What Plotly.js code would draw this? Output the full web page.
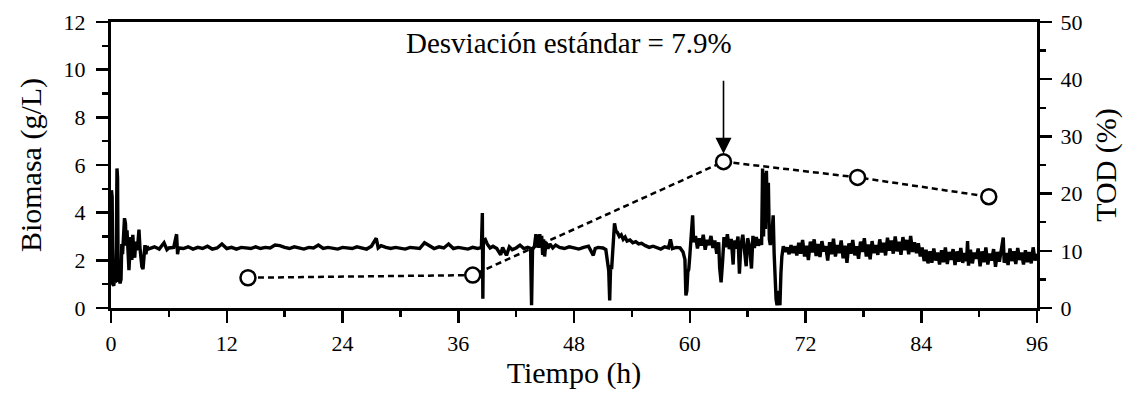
<!DOCTYPE html>
<html>
<head>
<meta charset="utf-8">
<script src="https://cdn.plot.ly/plotly-3.0.1.min.js"></script>
<style>
  html, body { margin: 0; padding: 0; background: #fff; }
  #chart { width: 1137px; height: 395px; }
</style>
</head>
<body>
<div id="chart"></div>
<script>
// Biomass samples (left axis, g/L)
const sampleTime = [14.2, 37.5, 63.5, 77.4, 91.0];
const biomass = [1.27, 1.38, 6.14, 5.48, 4.67];

// Dissolved oxygen tension record (right axis, %)
const todTime = [
  0.05, 0.12, 0.18, 0.28, 0.38, 0.46, 0.55, 0.62, 0.68, 0.74, 0.84, 0.94, 1.04, 1.12, 1.2, 1.3, 1.4, 1.5, 1.58, 1.66,
  1.76, 1.86, 1.96, 2.06, 2.16, 2.26, 2.36, 2.46, 2.56, 2.66, 2.78, 2.9, 3.0, 3.1, 3.2, 3.32, 3.42, 3.52, 3.62, 3.74, 3.86,
  4.0, 4.5, 5.0, 5.5, 5.8, 6.0, 6.5, 6.8, 6.9, 7.0, 7.5, 8.0, 8.5, 9.0, 9.5, 10.0, 10.5, 11.0, 11.5, 12.0,
  12.5, 13.0, 13.5, 14.0, 14.5, 15.0, 15.5, 16.0, 16.5, 17.0, 17.5, 18.0, 18.5, 19.0, 19.5, 20.0, 20.5, 21.0, 21.5, 22.0,
  22.5, 23.0, 23.5, 24.0, 24.5, 25.0, 25.5, 26.0, 26.5, 27.0, 27.5, 27.7, 28.0, 28.5, 29.0, 29.5, 30.0, 30.5, 31.0, 31.5,
  32.0, 32.5, 33.0, 33.5, 34.0, 34.5, 35.0, 35.5, 36.0, 36.5, 37.0, 37.5, 38.0, 38.4, 38.5, 38.55, 38.6, 38.8, 39.0, 39.3,
  39.6, 40.0, 40.4, 40.6, 41.0, 41.3, 41.6, 42.0, 42.4, 42.8, 43.2, 43.5, 43.6, 43.7, 43.9, 44.05, 44.15, 44.25, 44.35, 44.45,
  44.55, 44.65, 44.75, 44.85, 44.95, 45.1, 45.3, 45.5, 45.8, 46.1, 46.5, 47.0, 47.5, 48.0, 48.5, 49.0, 49.5, 50.0, 50.2, 50.5,
  51.0, 51.3, 51.5, 51.6, 51.7, 51.8, 51.9, 52.0, 52.2, 52.35, 52.5, 52.7, 52.9, 53.1, 53.3, 53.5, 53.8, 54.1, 54.4, 54.7,
  55.0, 55.4, 55.8, 56.2, 56.6, 57.0, 57.4, 57.8, 58.0, 58.2, 58.6, 59.0, 59.3, 59.5, 59.6, 59.7, 59.8, 59.9, 60.0, 60.3,
  60.4, 60.6, 60.8, 61.0, 61.2, 61.4, 61.6, 61.8, 62.0, 62.2, 62.4, 62.6, 62.8, 63.0, 63.1, 63.25, 63.4, 63.55, 63.7, 63.9,
  64.1, 64.3, 64.5, 64.6, 64.8, 65.0, 65.15, 65.3, 65.5, 65.7, 65.85, 66.0, 66.2, 66.4, 66.55, 66.7, 66.9, 67.1, 67.3, 67.45,
  67.55, 67.65, 67.75, 67.85, 67.95, 68.05, 68.15, 68.25, 68.35, 68.5, 68.65, 68.75, 68.85, 68.95, 69.05, 69.15, 69.25, 69.35, 69.45, 69.55,
  69.7, 69.9, 70.1, 70.3, 70.5, 70.7, 70.9, 71.1, 71.3, 71.5, 71.7, 71.9, 72.1, 72.3, 72.5, 72.7, 72.9, 73.1, 73.3, 73.5,
  73.7, 73.9, 74.1, 74.3, 74.5, 74.7, 74.9, 75.1, 75.3, 75.5, 75.7, 75.9, 76.1, 76.3, 76.5, 76.7, 76.9, 77.1, 77.3, 77.5,
  77.7, 77.9, 78.1, 78.3, 78.5, 78.7, 78.9, 79.1, 79.3, 79.5, 79.7, 79.9, 80.1, 80.3, 80.5, 80.7, 80.9, 81.1, 81.3, 81.5,
  81.7, 81.9, 82.1, 82.3, 82.5, 82.7, 82.9, 83.1, 83.3, 83.5, 83.7, 83.9, 84.1, 84.3, 84.5, 84.7, 84.9, 85.1, 85.3, 85.5,
  85.7, 85.9, 86.1, 86.3, 86.5, 86.7, 86.9, 87.1, 87.3, 87.5, 87.7, 87.9, 88.1, 88.3, 88.5, 88.7, 88.8, 88.9, 89.1, 89.3,
  89.5, 89.7, 89.9, 90.1, 90.3, 90.5, 90.7, 90.9, 91.1, 91.3, 91.5, 91.7, 91.9, 92.1, 92.3, 92.5, 92.6, 92.8, 93.0, 93.2,
  93.4, 93.6, 93.8, 94.0, 94.2, 94.4, 94.6, 94.8, 95.0, 95.2, 95.4, 95.6, 95.8, 96.0
];
const todValue = [
  20.6, 19.4, 4.2, 3.9, 5.2, 4.4, 10.8, 24.4, 22.8, 4.6, 5.5, 4.3, 5.0, 11.2, 9.4, 12.6, 15.7, 14.8, 10.9, 13.6,
  8.2, 6.6, 9.8, 12.4, 8.4, 12.8, 9.9, 8.8, 11.6, 10.1, 11.2, 13.7, 10.6, 9.1, 7.2, 6.8, 9.6, 11.0, 9.4, 10.8, 10.3,
  10.4, 10.7, 10.3, 11.4, 10.2, 10.5, 10.6, 12.9, 9.4, 10.5, 10.4, 10.7, 10.3, 10.6, 10.4, 10.8, 10.3, 10.5, 11.2, 10.4,
  10.6, 10.3, 10.6, 10.5, 10.4, 10.7, 10.4, 10.6, 10.5, 11.0, 10.9, 10.6, 10.4, 10.7, 10.5, 10.3, 10.6, 10.5, 11.0, 10.4,
  10.6, 10.5, 10.3, 10.6, 10.5, 10.4, 10.7, 10.5, 10.3, 10.8, 12.2, 10.5, 10.9, 10.6, 10.4, 10.6, 10.5, 10.3, 10.6, 10.5,
  10.4, 11.4, 10.9, 10.4, 10.7, 10.5, 11.2, 10.4, 10.6, 10.5, 10.3, 10.6, 10.4, 10.6, 16.6, 1.6, 11.8, 12.0, 11.2, 10.5,
  10.8, 10.4, 9.3, 10.6, 9.2, 10.7, 10.2, 10.5, 11.0, 10.4, 10.6, 10.4, 0.5, 10.2, 10.8, 12.9, 10.9, 12.8, 10.5, 12.9,
  11.0, 12.6, 9.3, 12.0, 9.0, 11.5, 10.4, 11.2, 10.5, 11.0, 10.6, 10.4, 10.7, 10.5, 10.3, 10.6, 10.8, 9.2, 10.4, 10.6,
  10.5, 10.2, 7.0, 6.5, 1.3, 7.5, 6.8, 10.0, 14.8, 13.5, 13.2, 12.5, 12.8, 12.0, 12.4, 11.7, 11.9, 11.4, 11.6, 11.2,
  11.3, 10.9, 10.6, 10.8, 10.5, 10.3, 10.7, 10.5, 12.0, 10.4, 10.6, 10.5, 9.8, 8.5, 2.2, 3.0, 6.3, 6.8, 9.0, 16.2,
  11.5, 12.6, 10.4, 12.2, 10.9, 12.8, 10.2, 11.9, 11.0, 12.6, 10.5, 11.8, 9.5, 11.5, 7.0, 4.5, 8.0, 12.4, 10.6, 12.9,
  10.3, 12.1, 7.6, 11.8, 10.4, 12.5, 6.0, 11.0, 12.8, 10.0, 7.3, 12.2, 10.8, 6.9, 12.6, 10.5, 12.4, 10.9, 12.0, 11.0,
  24.4, 12.5, 23.6, 13.8, 24.0, 15.0, 21.9, 12.0, 11.0, 12.5, 16.2, 9.5, 4.0, 1.5, 0.5, 3.0, 1.2, 0.5, 6.0, 9.0,
  10.8, 9.8, 10.6, 9.4, 11.0, 9.6, 10.8, 9.2, 11.4, 9.5, 11.9, 9.0, 10.9, 8.4, 11.6, 9.7, 12.0, 9.1, 11.2, 8.9,
  11.7, 9.9, 10.8, 8.3, 11.5, 9.4, 12.1, 9.0, 11.0, 9.6, 11.8, 8.7, 10.9, 7.9, 11.3, 9.5, 11.9, 9.2, 10.8, 8.6,
  11.6, 9.8, 12.2, 9.0, 11.1, 8.5, 11.7, 9.6, 11.0, 9.3, 12.0, 9.7, 11.4, 9.2, 12.3, 10.0, 11.8, 9.5, 12.5, 9.9,
  11.6, 9.3, 12.4, 10.1, 11.9, 9.4, 12.6, 9.8, 11.5, 9.6, 11.3, 9.0, 10.6, 8.2, 10.2, 7.8, 9.9, 7.9, 10.4, 8.3,
  9.7, 7.6, 10.1, 8.0, 10.6, 7.7, 9.8, 8.4, 10.3, 7.5, 9.9, 8.1, 10.5, 7.9, 9.6, 8.2, 11.7, 7.4, 10.2, 7.8,
  9.7, 8.6, 10.4, 7.3, 9.9, 8.0, 10.6, 7.6, 9.5, 8.3, 10.3, 7.2, 9.8, 8.1, 10.2, 12.3, 7.9, 9.6, 7.5, 10.4,
  8.2, 9.9, 7.7, 10.5, 8.4, 9.7, 7.6, 10.1, 8.0, 9.8, 7.8, 10.6, 8.3, 9.5
];

const serif = 'Liberation Serif';
const axisFont = { family: serif, size: 22, color: '#000' };
const titleFont = { family: serif, size: 30, color: '#000' };

const traces = [
  {
    x: todTime, y: todValue, yaxis: 'y2', type: 'scatter', mode: 'lines',
    line: { color: '#000', width: 3.4 }, hoverinfo: 'skip'
  },
  {
    x: sampleTime, y: biomass, yaxis: 'y', type: 'scatter', mode: 'lines+markers',
    line: { color: '#000', width: 2.5, dash: '6px,4px' },
    marker: { symbol: 'circle', size: 15, color: '#fff', line: { color: '#000', width: 2.5 } }
  }
];

const layout = {
  width: 1137, height: 395,
  margin: { l: 111, r: 100, t: 22, b: 87 },
  paper_bgcolor: '#fff', plot_bgcolor: '#fff',
  showlegend: false,
  font: axisFont,
  xaxis: {
    range: [0, 96], tickmode: 'linear', tick0: 0, dtick: 12,
    showline: true, linewidth: 3, linecolor: '#000', mirror: true,
    ticks: 'outside', ticklen: 12, tickwidth: 2.5, tickcolor: '#000',
    minor: { dtick: 6, ticks: 'outside', ticklen: 6, tickwidth: 2.5, tickcolor: '#000' },
    showgrid: false, zeroline: false, tickfont: axisFont, ticklabelstandoff: 2,
    title: { text: 'Tiempo (h)', font: titleFont, standoff: 4 }
  },
  yaxis: {
    range: [0, 12], tickmode: 'linear', tick0: 0, dtick: 2,
    showline: true, linewidth: 3, linecolor: '#000',
    ticks: 'outside', ticklen: 12, tickwidth: 2.5, tickcolor: '#000',
    minor: { dtick: 1, ticks: 'outside', ticklen: 6, tickwidth: 2.5, tickcolor: '#000' },
    showgrid: false, zeroline: false, tickfont: axisFont, ticklabelstandoff: 6,
    title: { text: 'Biomasa (g/L)', font: titleFont, standoff: 14 }
  },
  yaxis2: {
    range: [0, 50], overlaying: 'y', side: 'right', tickmode: 'linear', tick0: 0, dtick: 10,
    showline: true, linewidth: 3, linecolor: '#000',
    ticks: 'outside', ticklen: 12, tickwidth: 2.5, tickcolor: '#000',
    minor: { dtick: 5, ticks: 'outside', ticklen: 6, tickwidth: 2.5, tickcolor: '#000' },
    showgrid: false, zeroline: false, tickfont: axisFont, ticklabelstandoff: 4,
    title: { text: 'TOD (%)', font: titleFont, standoff: 14 }
  },
  annotations: [
    {
      xref: 'x', yref: 'y', x: 47.5, y: 11.1, xanchor: 'center', yanchor: 'middle',
      text: 'Desviación estándar = 7.9%', showarrow: false,
      font: { family: serif, size: 29, color: '#000' }
    },
    {
      xref: 'x', yref: 'y', x: sampleTime[2], y: biomass[2], text: ' ',
      showarrow: true, ax: 0, ay: -95, axref: 'pixel', ayref: 'pixel',
      arrowhead: 2, arrowsize: 2, arrowwidth: 1.6, arrowcolor: '#000', standoff: 8
    }
  ]
};

Plotly.newPlot('chart', traces, layout, { staticPlot: true, displayModeBar: false });
</script>
</body>
</html>
